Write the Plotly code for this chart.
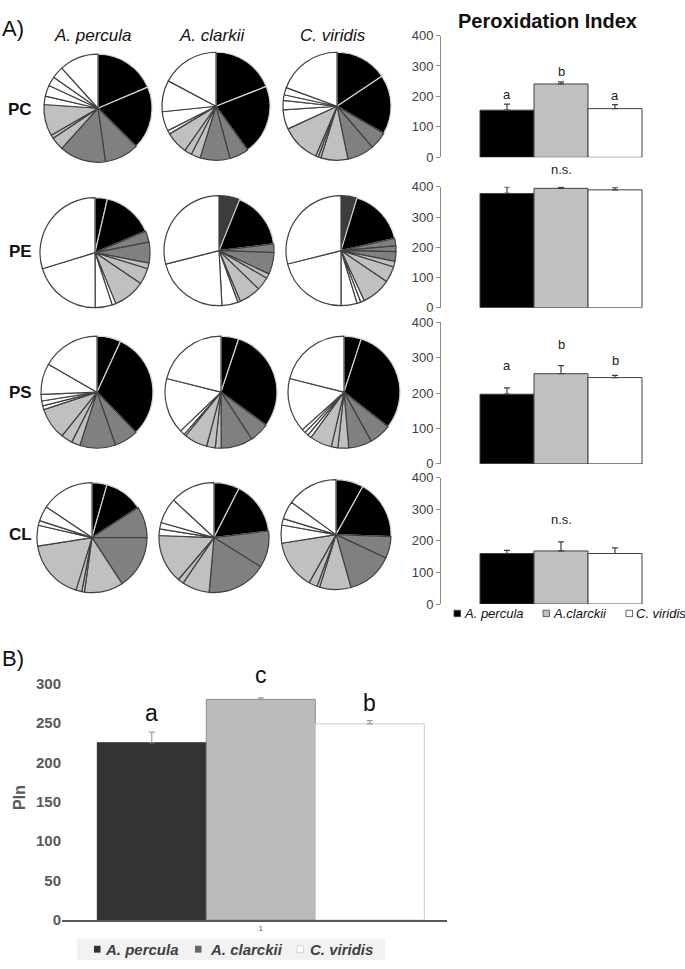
import plotly.graph_objects as go

W, H = 685, 969


def xp(px):
    return px / W


def yp(py):
    return 1 - py / H


# ---------------- DATA ----------------
species = ["A. percula", "A. clarkii", "C. viridis"]
lipid_classes = ["PC", "PE", "PS", "CL"]

# Pie slices (% of fatty acids), clockwise from 12 o'clock.
# Group codes: K = black, D = dark grey, M = mid grey, L = light grey, W = white
pc_percula = [18.6, 18.9, 10.3, 13.9, 3.9, 1.1, 9.4, 2.5, 3.3, 2.8, 3.6, 11.7]
pc_percula_grp = "KKMMLLLWWWWW"
pc_clarkii = [19.0, 21.0, 5.8, 8.9, 2.8, 2.2, 6.7, 1.1, 5.8, 9.4, 17.2]
pc_clarkii_grp = "KKMMLLLWWWW"
pc_viridis = [15.6, 17.8, 5.3, 8.1, 8.1, 0.8, 0.8, 11.7, 5.8, 2.8, 1.7, 2.2, 19.4]
pc_viridis_grp = "KKMMLLLLWWWWW"

pe_percula = [3.6, 15.0, 3.3, 6.1, 1.7, 4.7, 9.4, 1.1, 5.0, 20.3, 29.7]
pe_percula_grp = "KKMMLLLWWWW"
pe_clarkii = [6.1, 16.9, 2.5, 6.4, 1.4, 3.9, 6.4, 0.8, 4.7, 21.9, 28.9]
pe_clarkii_grp = "DKMMLLLLWWW"
pe_viridis = [4.7, 16.7, 2.2, 1.7, 2.8, 1.7, 4.7, 8.6, 1.1, 1.1, 4.7, 21.1, 28.9]
pe_viridis_grp = "DKMMMLLLWWWWW"

ps_percula = [6.9, 30.8, 6.9, 10.3, 2.5, 3.3, 9.2, 1.1, 1.4, 1.9, 8.9, 16.7]
ps_percula_grp = "KKMMLLLWWWWW"
ps_clarkii = [5.1, 30.0, 5.7, 9.2, 1.7, 2.5, 6.7, 0.6, 1.4, 16.1, 21.1]
ps_clarkii_grp = "KKMMLLLWWWW"
ps_viridis = [5.0, 30.6, 6.4, 6.7, 3.1, 1.9, 6.4, 1.1, 1.1, 1.1, 15.6, 21.1]
ps_viridis_grp = "KKMMLLLWWWWW"

cl_percula = [4.4, 11.4, 9.2, 15.8, 11.4, 0.8, 1.7, 17.8, 6.1, 1.4, 4.4, 15.6]
cl_percula_grp = "KKMMLLLLWWWW"
cl_clarkii = [7.5, 15.6, 10.8, 17.5, 8.1, 1.7, 14.4, 1.9, 1.9, 7.5, 13.1]
cl_clarkii_grp = "KKMMLLLWWWW"
cl_viridis = [8.1, 17.5, 6.4, 13.6, 9.2, 0.8, 2.5, 14.4, 5.3, 1.9, 5.3, 15.0]
cl_viridis_grp = "KKMMLLLLWWWW"

pies = {
    "PC": [(pc_percula, pc_percula_grp), (pc_clarkii, pc_clarkii_grp), (pc_viridis, pc_viridis_grp)],
    "PE": [(pe_percula, pe_percula_grp), (pe_clarkii, pe_clarkii_grp), (pe_viridis, pe_viridis_grp)],
    "PS": [(ps_percula, ps_percula_grp), (ps_clarkii, ps_clarkii_grp), (ps_viridis, ps_viridis_grp)],
    "CL": [(cl_percula, cl_percula_grp), (cl_clarkii, cl_clarkii_grp), (cl_viridis, cl_viridis_grp)],
}

# Peroxidation index per lipid class (mean, SE) and significance letters
pi_pc = [155, 241, 160]
pi_pc_err = [20, 7, 13]
pi_pc_letters = ["a", "b", "a"]
pi_pe = [378, 395, 390]
pi_pe_err = [22, 4, 7]
pi_pe_letters = ["", "n.s.", ""]
pi_ps = [197, 255, 244]
pi_ps_err = [18, 23, 6]
pi_ps_letters = ["a", "b", "b"]
pi_cl = [160, 168, 160]
pi_cl_err = [10, 29, 18]
pi_cl_letters = ["", "n.s.", ""]

# Panel B: total peroxidation index
pin_total = [225, 280, 249]
pin_total_err = [13.5, 2, 4]
pin_letters = ["a", "c", "b"]

small_ticks = [0, 100, 200, 300, 400]
big_ticks = [0, 50, 100, 150, 200, 250, 300]

# ---------------- STYLE / LAYOUT ----------------
FONT = "Liberation Sans, Arial, sans-serif"
grp_fill = {"K": "#000000", "D": "#3c3c3c", "M": "#808080", "L": "#c0c0c0", "W": "#ffffff"}
grp_line = {"K": "#d4d4d4", "D": "#404040", "M": "#404040", "L": "#404040", "W": "#404040"}

pie_pos = {
    "PC": [(98, 101, 55), (216, 99, 55), (337, 99, 55)],
    "PE": [(95, 248, 56), (219, 246, 56), (341, 246, 56)],
    "PS": [(97, 390, 57), (221, 390, 57), (344, 390, 57)],
    "CL": [(92, 538, 56), (214, 538, 56), (336, 535, 56)],
}

fig = go.Figure()

for cls in lipid_classes:
    for j, (vals, grp) in enumerate(pies[cls]):
        cx, cy, r = pie_pos[cls][j]
        fig.add_trace(go.Pie(
            values=vals,
            labels=[f"{cls}-{species[j]}-{k}" for k in range(len(vals))],
            sort=False, direction="clockwise", rotation=0,
            textinfo="none", hoverinfo="skip", showlegend=False,
            marker=dict(colors=[grp_fill[g] for g in grp],
                        line=dict(color=[grp_line[g] for g in grp], width=1.2)),
            domain=dict(x=[xp(cx - r), xp(cx + r)], y=[yp(cy + r), yp(cy - r)]),
        ))

small_sets = [
    (pi_pc, pi_pc_err, pi_pc_letters, (151, 27), [0, 1, 0]),
    (pi_pe, pi_pe_err, pi_pe_letters, (304, 181), [0, 8, 0]),
    (pi_ps, pi_ps_err, pi_ps_letters, (463, 319), [13, 12, 5]),
    (pi_cl, pi_cl_err, pi_cl_letters, (605.7, 477), [0, 13, 0]),
]
bar_cols = ["#000000", "#c0c0c0", "#ffffff"]
ax_left, ax_right = 441, 660
unit = 54
x_lo = -0.5 - (480 - ax_left) / unit
x_hi = x_lo + (ax_right - ax_left) / unit

annotations = []
layout_axes = {}
for i, (vals, errs, letters, (y0, y400), shifts) in enumerate(small_sets):
    n = i + 1
    xa = "x" if n == 1 else f"x{n}"
    ya = "y" if n == 1 else f"y{n}"
    fig.add_trace(go.Bar(
        x=[0, 1, 2], y=vals, width=1, xaxis=xa, yaxis=ya,
        marker=dict(color=bar_cols, line=dict(color="#404040", width=1)),
        error_y=dict(type="data", array=errs, arrayminus=[0, 0, 0], symmetric=False,
                     color="#404040", thickness=1.2, width=3),
        showlegend=False, hoverinfo="skip",
    ))
    xkey = "xaxis" if n == 1 else f"xaxis{n}"
    ykey = "yaxis" if n == 1 else f"yaxis{n}"
    layout_axes[xkey] = dict(domain=[xp(ax_left), xp(ax_right)], range=[x_lo, x_hi],
                             visible=False, anchor=ya, fixedrange=True)
    layout_axes[ykey] = dict(domain=[yp(y0), yp(y400)], range=[0, 400], anchor=xa,
                             tickvals=small_ticks, showline=True, linecolor="#8c8c8c",
                             linewidth=1, ticks="outside", ticklen=4, tickcolor="#8c8c8c",
                             showgrid=False, zeroline=False,
                             tickfont=dict(family=FONT, size=13, color="#404040"))
    for k, lt in enumerate(letters):
        if lt:
            annotations.append(dict(x=k, y=vals[k] + errs[k], xref=xa, yref=ya, text=lt,
                                    showarrow=False, yanchor="bottom", yshift=shifts[k],
                                    font=dict(family=FONT, size=13, color="#222")))

# Panel B
bx_lo = -0.5 - (97.3 - 62) / 109
bx_hi = bx_lo + (447 - 62) / 109
fig.add_trace(go.Bar(
    x=[0, 1, 2], y=pin_total, width=1, xaxis="x5", yaxis="y5",
    marker=dict(color=["#333333", "#bbbbbb", "#ffffff"],
                line=dict(color=["#333333", "#8a8a8a", "#cccccc"], width=1)),
    error_y=dict(type="data", array=pin_total_err, arrayminus=[0, 0, 0], symmetric=False,
                 color="#8a8a8a", thickness=1, width=3),
    showlegend=False, hoverinfo="skip",
))
layout_axes["xaxis5"] = dict(domain=[xp(62), xp(447)], range=[bx_lo, bx_hi], anchor="y5",
                             showline=True, linecolor="#595959", linewidth=1.5,
                             tickvals=[1], ticktext=["1"], ticks="", showgrid=False,
                             zeroline=False, tickfont=dict(family=FONT, size=8, color="#595959"))
layout_axes["yaxis5"] = dict(domain=[yp(927.3), yp(686.7)], range=[0, 300], anchor="x5",
                             tickvals=big_ticks, showline=False, ticks="", showgrid=False,
                             zeroline=False,
                             tickfont=dict(family=FONT, size=15, color="#595959", weight="bold"))
for k, lt in enumerate(pin_letters):
    annotations.append(dict(x=k, y=pin_total[k] + pin_total_err[k], xref="x5", yref="y5",
                            text=lt, showarrow=False, yanchor="middle",
                            yshift=[19, 23, 18][k],
                            font=dict(family=FONT, size=23, color="#111")))


def txt(x, y, s, size, xanchor="center", color="#111", angle=0):
    annotations.append(dict(x=xp(x), y=yp(y), xref="paper", yref="paper", text=s,
                            showarrow=False, xanchor=xanchor, yanchor="middle",
                            textangle=angle,
                            font=dict(family=FONT, size=size, color=color)))


txt(0, 20, "A)", 22, "left")
txt(0, 661, "B)", 22, "left")
for name, x in zip(species, [93, 212, 333]):
    txt(x, 27, f"<i>{name}</i>", 17)
for cls, y in zip(lipid_classes, [102, 247, 390, 535]):
    txt(20, y, f"<b>{cls}</b>", 17)
txt(547, 12, "<b>Peroxidation Index</b>", 20)

# small legend
txt(461.5, 615, "<i>A. percula</i>", 13, "left")
txt(551, 615, "<i>A.clarckii</i>", 13, "left")
txt(633.5, 615, "<i>C. viridis</i>", 13, "left")

# panel B legend
txt(103, 957, "<b><i>A. percula</i></b>", 15, "left", "#404040")
txt(208, 957, "<b><i>A. clarckii</i></b>", 15, "left", "#404040")
txt(308, 957, "<b><i>C. viridis</i></b>", 15, "left", "#404040")
txt(20, 803, "<b>PIn</b>", 16, "center", "#595959", -90)

shapes = [
    dict(type="rect", xref="paper", yref="paper", x0=xp(77), x1=xp(385), y0=yp(968), y1=yp(946),
         fillcolor="#f2f2f2", line=dict(width=0), layer="below"),
    dict(type="rect", xref="paper", yref="paper", x0=xp(454), x1=xp(460.5), y0=yp(618.5), y1=yp(612),
         fillcolor="#000000", line=dict(color="#404040", width=0.8)),
    dict(type="rect", xref="paper", yref="paper", x0=xp(543), x1=xp(549.5), y0=yp(618.5), y1=yp(612),
         fillcolor="#c0c0c0", line=dict(color="#404040", width=0.8)),
    dict(type="rect", xref="paper", yref="paper", x0=xp(626), x1=xp(632.5), y0=yp(618.5), y1=yp(612),
         fillcolor="#ffffff", line=dict(color="#404040", width=0.8)),
    dict(type="rect", xref="paper", yref="paper", x0=xp(94), x1=xp(100.5), y0=yp(960.5), y1=yp(953.5),
         fillcolor="#333333", line=dict(width=0)),
    dict(type="rect", xref="paper", yref="paper", x0=xp(195), x1=xp(201.5), y0=yp(960.5), y1=yp(953.5),
         fillcolor="#666666", line=dict(width=0)),
    dict(type="rect", xref="paper", yref="paper", x0=xp(297), x1=xp(303.5), y0=yp(960.5), y1=yp(953.5),
         fillcolor="#ffffff", line=dict(color="#cccccc", width=0.8)),
]

fig.update_layout(
    width=W, height=H, margin=dict(l=0, r=0, t=0, b=0),
    paper_bgcolor="white", plot_bgcolor="rgba(0,0,0,0)",
    showlegend=False, annotations=annotations, shapes=shapes,
    font=dict(family=FONT),
    **layout_axes,
)

fig.write_html("out.html", config={"displayModeBar": False},
               post_script="document.body.style.margin='0';")
